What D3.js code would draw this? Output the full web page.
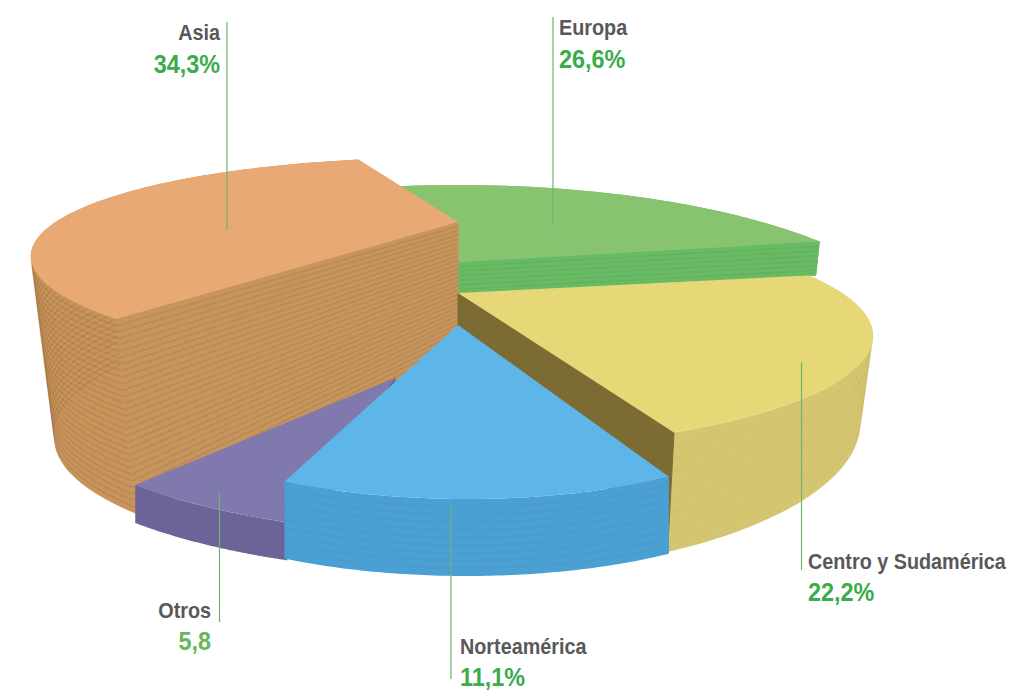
<!DOCTYPE html>
<html lang="es">
<head>
<meta charset="utf-8">
<script src="https://cdnjs.cloudflare.com/ajax/libs/d3/7.8.5/d3.min.js"></script>
<style>
  html, body { margin: 0; padding: 0; background: #fff; }
  svg { display: block; }
  text { font-family: "Liberation Sans", Arial, sans-serif; font-weight: 700; }
</style>
</head>
<body>
<svg id="chart" width="1032" height="691"></svg>
<script>
// Regional shares, clockwise from the back of the disc
const regions = ["Europa", "Centro y Sudamérica", "Norteamérica", "Otros", "Asia"];
const shares = [26.6, 22.2, 11.1, 5.8, 34.3];
const shareLabels = ["26,6%", "22,2%", "11,1%", "5,8", "34,3%"];

// Appearance of each wedge
const topColors = ["#88c470", "#e6d777", "#5db5e8", "#8079ae", "#e9a974"];
const sideColors = ["#6cbf68", "#d4c670", "#4a9fd3", "#6c6399", "#c8945c"];
const cutColors = ["#68bb65", "#7c6c33", "#4a9fd3", "#6c6399", "#c6955e"];
const stripeCounts = [7, 9, 10, 3, 30];
const stripeOpacity = [0.08, 0.03, 0.04, 0.05, 0.13];

// Placement of each wedge: apex, ellipse radii, shear, perspective, thickness, taper to the base
const apexX = [458, 458, 458, 395, 458];
const apexY = [262, 293, 325, 378, 222];
const radiusX = [467, 415, 345, 368, 435];
const radiusY = [154, 113, 116, 115, 104];
const shear = [0, 0, 0.05, 0.405, 0.21];
const perspective = [0.5, 0.38, 0.5, 0.363, 0.38];
const apexDepth = [32, 35, 27, 15, 128];
const rimDepth = [38, 72, 77, 38, 175];
const depthFalloff = [1.3, 1.16, 0, 0, 0.3];
const taper = [0.01, 0.03, 0.0, 0.0, 0.055];

// Lift order: back wedges first so nearer ones overlap them
const drawOrder = [0, 4, 1, 3, 2];

// Callout text and leader positions
const leaderX = [553, 801.5, 451, 219.5, 227];
const leaderY0 = [17, 362, 506, 492, 22];
const leaderY1 = [225, 570, 679, 622, 230];
const labelX = [559, 808, 460, 211, 220];
const labelY = [35, 569, 654, 618, 40];
const labelAnchor = ["start", "start", "start", "end", "end"];
const valueGap = [33, 32, 32, 32, 33];
const valueColors = ["#3bab4b", "#3bab4b", "#3bab4b", "#66b75a", "#3bab4b"];
const condense = 0.9;

const startBearing = -17 * Math.PI / 180;

const svg = d3.select("#chart");

const arcs = d3.pie().sort(null).startAngle(startBearing).endAngle(startBearing + 2 * Math.PI)(shares);

// Rim point of wedge i at a bearing, lowered by fraction f of the rim thickness
function rimPoint(i, bearing, f) {
  const s = perspective[i];
  const u = Math.sin(bearing);
  const v = -Math.cos(bearing);
  const den = 1 - s * v;
  const X = u * Math.sqrt(1 - s * s) / den;
  const Y = v * (1 - s * s) / den;
  const y = apexY[i] + radiusY[i] * Y;
  const x = apexX[i] + radiusX[i] * X + shear[i] * (y - apexY[i]);
  return [
    x + (apexX[i] - x) * taper[i] * f,
    y + f * rimDepth[i] / Math.pow(den, depthFalloff[i])
  ];
}

const apexPoint = (i, f) => [apexX[i], apexY[i] + f * apexDepth[i]];

const line = d3.line();
const closed = d3.line().curve(d3.curveLinearClosed);

const bearings = (a) => d3.range(0, 81).map(k => a.startAngle + (a.endAngle - a.startAngle) * k / 80);

function stripes(g, i, pathAt) {
  d3.range(1, stripeCounts[i]).forEach(n => {
    g.append("path")
      .attr("d", line(pathAt(n / stripeCounts[i])))
      .attr("fill", "none").attr("stroke", "#5a3410")
      .attr("stroke-opacity", stripeOpacity[i]).attr("stroke-width", 1.3);
  });
}

drawOrder.forEach(i => {
  const a = arcs[i];
  const g = svg.append("g").attr("class", "wedge").attr("data-region", regions[i]);
  const steps = bearings(a);

  // Outer rim: short quads wound the same way, merged so the band stays solid where it folds
  const rimQuads = d3.pairs(steps).map(([b0, b1]) => {
    const quad = [rimPoint(i, b0, 0), rimPoint(i, b1, 0), rimPoint(i, b1, 1), rimPoint(i, b0, 1)];
    return d3.polygonArea(quad) < 0 ? quad.reverse() : quad;
  });
  g.append("path").attr("d", rimQuads.map(q => closed(q)).join("")).attr("fill", sideColors[i]);
  stripes(g, i, f => steps.map(b => rimPoint(i, b, f)));

  // Radial cut faces that turn toward the viewer
  [
    { bearing: a.startAngle, visible: -Math.sin(a.startAngle) > 0 },
    { bearing: a.endAngle, visible: Math.sin(a.endAngle) > 0 }
  ].filter(c => c.visible).forEach(c => {
    g.append("path")
      .attr("d", closed([apexPoint(i, 0), rimPoint(i, c.bearing, 0), rimPoint(i, c.bearing, 1), apexPoint(i, 1)]))
      .attr("fill", cutColors[i]).attr("stroke", cutColors[i]).attr("stroke-width", 1);
    stripes(g, i, f => [apexPoint(i, f), rimPoint(i, c.bearing, f)]);
  });

  // Top face
  g.append("path")
    .attr("d", closed([apexPoint(i, 0)].concat(steps.map(b => rimPoint(i, b, 0)))))
    .attr("fill", topColors[i]);
});

// Leaders and callouts sit above the disc
regions.forEach((name, i) => {
  svg.append("line")
    .attr("x1", leaderX[i]).attr("x2", leaderX[i])
    .attr("y1", leaderY0[i]).attr("y2", leaderY1[i])
    .attr("stroke", "#6db56a").attr("stroke-width", 1.2);
  svg.append("text")
    .attr("transform", `translate(${labelX[i]},${labelY[i]}) scale(${condense},1)`)
    .attr("text-anchor", labelAnchor[i])
    .attr("font-size", 22).attr("fill", "#58585a")
    .text(name);
  svg.append("text")
    .attr("transform", `translate(${labelX[i]},${labelY[i] + valueGap[i]}) scale(${condense},1)`)
    .attr("text-anchor", labelAnchor[i])
    .attr("font-size", 26).attr("fill", valueColors[i])
    .text(shareLabels[i]);
});
</script>
</body>
</html>
